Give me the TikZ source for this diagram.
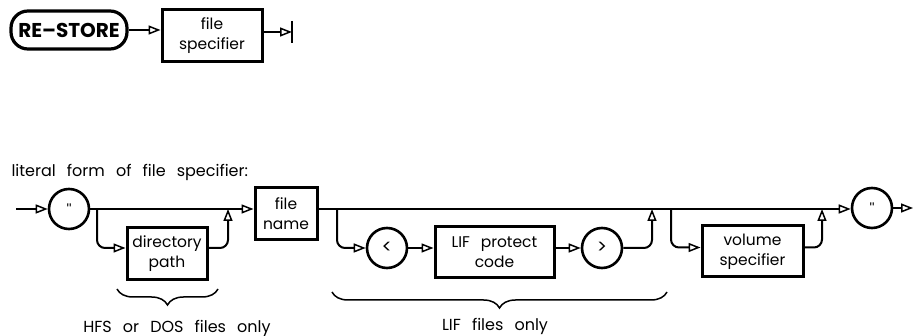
\documentclass[tikz,border=0pt]{standalone}
\usepackage{fontspec}
\setmainfont{Poppins}[WordSpace=2.6]
\newfontfamily\qfont{Liberation Sans}
\usetikzlibrary{arrows.meta,decorations.pathreplacing}
\begin{document}
\begin{tikzpicture}[x=1pt,y=-1pt,
  line/.style={line width=2pt, line join=round},
  arr/.style={line, -{Triangle[open,length=12pt,width=9pt,line width=1.5pt]}},
  box/.style={draw, line width=3pt, align=center, inner sep=0pt, font=\fontsize{15.5}{20}\selectfont},
  circ/.style={draw, circle, line width=2.6pt, minimum size=40pt, inner sep=0pt, font=\fontsize{19}{19}\selectfont},
  lbl/.style={font=\fontsize{16}{18}\selectfont},
  rc/.style={rounded corners=8pt},
  brc/.style={line width=1.5pt, decorate, decoration={brace, amplitude=16pt}}
]
\useasboundingbox (0,0) rectangle (914,336);
% top syntax
\node[box, line width=3.2pt, rounded corners=17pt, minimum width=116pt, minimum height=38pt, font=\fontsize{20}{20}\selectfont\bfseries] (restore) at (69,30) {RE–STORE};
\node[box, minimum width=100pt, minimum height=52pt] (fs) at (212,36) {file\\specifier};
\coordinate (endbar) at (292,32);
\draw[arr] (restore.east) -- (fs.west |- restore.east);
\draw[arr] (fs.east |- endbar) -- (endbar);
\draw[line] (endbar) ++(0,-11) -- ++(0,22);
% literal form
\node[lbl, anchor=west] (title) at (8,172) {literal form of file specifier:};
\coordinate (in) at (16,209);
\node[circ] (q1) at (69,209) {\qfont\fontsize{14}{14}\selectfont "};
\node[box, minimum width=62pt, minimum height=52pt] (fn) at (286,214) {file\\name};
\node[box, minimum width=80pt, minimum height=52pt] (dir) at (167,254) {directory\\path};
\node[circ] (lt) at (387,248) {<};
\node[box, minimum width=119pt, minimum height=51pt] (lif) at (494.5,252) {LIF protect\\code};
\node[circ] (gt) at (602,248) {>};
\node[box, minimum width=101pt, minimum height=51pt] (vol) at (752.5,251.5) {volume\\specifier};
\node[circ] (q2) at (872,208) {\qfont\fontsize{14}{14}\selectfont "};
\coordinate (out) at (913,208);
\coordinate (b1) at (97,209);
\coordinate (j1) at (228,209);
\coordinate (b2) at (337,209);
\coordinate (j2) at (652,209);
\coordinate (b3) at (671,209);
\coordinate (j3) at (822,209);
\draw[arr] (in) -- (q1.west);
\draw[arr] (q1.east) -- (fn.west |- q1.east);
\draw[arr,rc] (b1) |- ([yshift=6pt]dir.west);
\draw[arr,rc] ([yshift=6pt]dir.east) -| (j1);
\draw[arr] (fn.east |- b2) -- (q2.west |- b2);
\draw[arr,rc] (b2) |- (lt.west);
\draw[arr] (lt.east) -- (lif.west |- lt.east);
\draw[arr] (lif.east |- gt.west) -- (gt.west);
\draw[arr,rc] (gt.east) -| (j2);
\draw[arr,rc] (b3) |- ([yshift=4pt]vol.west);
\draw[arr,rc] ([yshift=4pt]vol.east) -| (j3);
\draw[arr] (q2.east) -- (out);
% braces
\draw[brc] (218,289) -- (117,289);
\draw[brc] (667,292) -- (332,292);
\node[lbl] (hfs) at (177,328) {HFS or DOS files only};
\node[lbl] (lifonly) at (495,326) {LIF files only};
\end{tikzpicture}
\end{document}
